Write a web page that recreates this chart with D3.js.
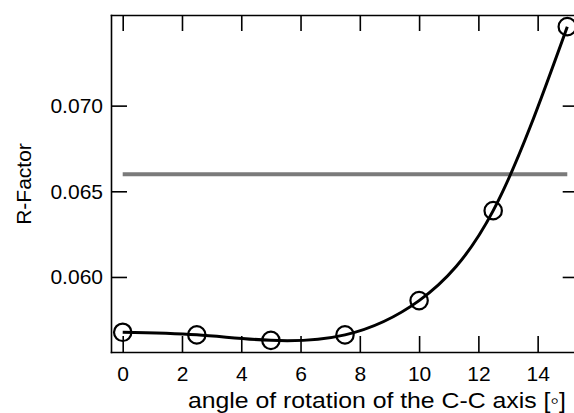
<!DOCTYPE html>
<html>
<head>
<meta charset="utf-8">
<script src="https://cdn.jsdelivr.net/npm/d3@7"></script>
<style>
  body { margin: 0; background: #fff; }
  svg { display: block; font-family: "Liberation Sans", Arial, sans-serif; }
  .axis path, .axis line { stroke: #000; stroke-width: 1.6; }
  .axis text { fill: #000; }
</style>
</head>
<body>
<svg width="574" height="413"></svg>
<script>
const WIDTH = 574
const HEIGHT = 413

// data
const angles = [0, 2.5, 5, 7.5, 10, 12.5, 15]
const rFactors = [0.05677, 0.05662, 0.0563, 0.05662, 0.05862, 0.06387, 0.07461]
const reference = [[0, 0.066], [15, 0.066]]
const xTicks = [0, 2, 4, 6, 8, 10, 12, 14]
const yTicks = [0.060, 0.065, 0.070]

const svg = d3.select('svg')
  .attr('viewBox', `0 0 ${WIDTH} ${HEIGHT}`)

const plotLeft = 111, plotRight = 578.7, plotTop = 15, plotBottom = 352

const xScale = d3.scaleLinear()
  .domain([-0.395, 15.385])
  .range([plotLeft, plotRight])

const yScale = d3.scaleLinear()
  .domain([0.05562, 0.07529])
  .range([plotBottom, plotTop])

// frame with inward ticks on all four sides
svg.append('g')
  .attr('class', 'axis')
  .attr('transform', `translate(0, ${plotBottom})`)
  .call(d3.axisBottom(xScale).tickValues(xTicks).tickSize(-16).tickSizeOuter(0).tickPadding(14))
  .selectAll('text')
  .style('font-size', '21px')

svg.append('g')
  .attr('class', 'axis')
  .attr('transform', `translate(0, ${plotTop})`)
  .call(d3.axisTop(xScale).tickValues(xTicks).tickSize(-16).tickSizeOuter(0).tickFormat(''))

svg.append('g')
  .attr('class', 'axis')
  .attr('transform', `translate(${plotLeft}, 0)`)
  .call(d3.axisLeft(yScale).tickValues(yTicks).tickSize(-16).tickSizeOuter(0).tickPadding(8).tickFormat(d3.format('.3f')))
  .selectAll('text')
  .style('font-size', '21px')

svg.append('g')
  .attr('class', 'axis')
  .attr('transform', `translate(${plotRight}, 0)`)
  .call(d3.axisRight(yScale).tickValues(yTicks).tickSize(-16).tickSizeOuter(0).tickFormat(''))

svg.selectAll('.axis .domain').attr('stroke-linecap', 'square')

// grey reference level
svg.append('path')
  .datum(reference)
  .attr('fill', 'none')
  .attr('stroke', '#7a7a7a')
  .attr('stroke-width', 4)
  .attr('d', d3.line().x(d => xScale(d[0])).y(d => yScale(d[1])))

// spline through the points
const points = angles.map((a, i) => [a, rFactors[i]])

svg.append('path')
  .datum(points)
  .attr('fill', 'none')
  .attr('stroke', '#000')
  .attr('stroke-width', 3)
  .attr('d', d3.line().curve(d3.curveNatural).x(d => xScale(d[0])).y(d => yScale(d[1])))

svg.selectAll('circle')
  .data(points)
  .enter()
  .append('circle')
  .attr('cx', d => xScale(d[0]))
  .attr('cy', d => yScale(d[1]))
  .attr('r', 8.7)
  .attr('fill', 'none')
  .attr('stroke', '#000')
  .attr('stroke-width', 2.2)

// axis titles
svg.append('text')
  .attr('x', 188)
  .attr('y', 408)
  .attr('textLength', 378)
  .attr('lengthAdjust', 'spacingAndGlyphs')
  .style('font-size', '22px')
  .text('angle of rotation of the C-C axis [\u25E6]')

svg.append('text')
  .attr('transform', 'translate(31, 184) rotate(-90)')
  .attr('text-anchor', 'middle')
  .style('font-size', '21px')
  .text('R-Factor')
</script>
</body>
</html>
